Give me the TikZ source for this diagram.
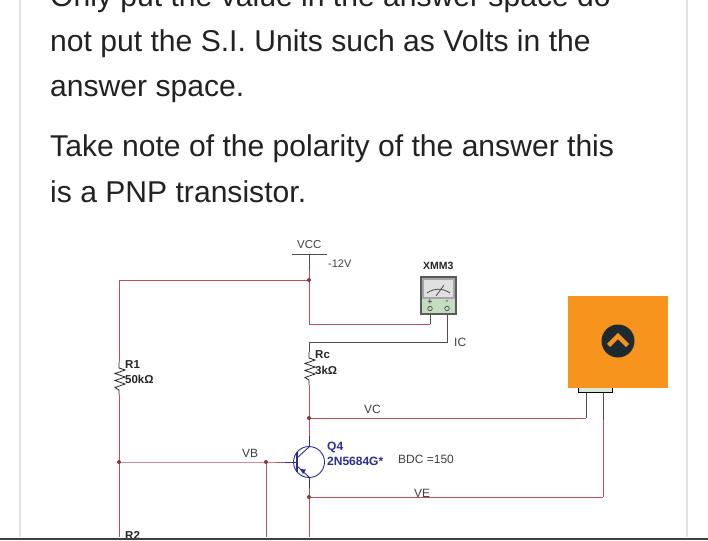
\documentclass[tikz,border=0pt]{standalone}
\usepackage{fontspec}
\setmainfont{Liberation Sans}
\definecolor{wirered}{HTML}{B5545A}
\definecolor{wireblk}{HTML}{5A4A4A}
\definecolor{qblue}{HTML}{2B2F8F}
\definecolor{railgray}{HTML}{E4E4E4}
\definecolor{orangebox}{HTML}{F7941E}
\definecolor{darkcirc}{HTML}{1F2A30}
\definecolor{txt}{HTML}{222222}
\definecolor{metergreen}{HTML}{C4DCC0}
\tikzset{
  wire/.style={draw=wirered,line width=1pt},
  bwire/.style={draw=wireblk,line width=1pt},
  zig/.style={draw=black!85,line width=0.8pt,line join=miter},
  junc/.style={circle,fill=wirered!70!black,inner sep=0pt,minimum size=4pt},
  para/.style={anchor=base west,inner sep=0pt,text=txt,font=\fontsize{30.1}{30}\selectfont},
  lab/.style={anchor=base west,inner sep=0pt,text=black!75,font=\fontsize{12}{12}\selectfont},
  blab/.style={anchor=base west,inner sep=0pt,text=black!85,font=\bfseries\fontsize{11.5}{11.5}\selectfont},
  qlab/.style={anchor=base west,inner sep=0pt,text=qblue,font=\bfseries\fontsize{12}{12}\selectfont},
}
\begin{document}
\begin{tikzpicture}[x=1pt,y=-1pt]
\useasboundingbox (0,0) rectangle (708,540);
\fill[white] (0,0) rectangle (708,540);
\draw[railgray,line width=1.5pt] (20,0) -- (20,537);
\draw[railgray,line width=1.5pt] (687,0) -- (687,537);
\begin{scope}
\clip (0,0) rectangle (708,540);
\node[para] (t0) at (50,7) {Only put the value in the answer space do};
\end{scope}
\node[para] (t1) at (50,52) {not put the S.I. Units such as Volts in the};
\node[para] (t2) at (50,97) {answer space.};
\node[para] (t3) at (50,157) {Take note of the polarity of the answer this};
\node[para] (t4) at (50,202) {is a PNP transistor.};
% coordinates
\coordinate (vcctop) at (309,254);
\coordinate (j1) at (309,280);
\coordinate (lft) at (119,280);
\coordinate (r1top) at (119,362);
\coordinate (r1bot) at (119,400);
\coordinate (j2) at (119,462);
\coordinate (r2) at (119,537);
\coordinate (m1) at (430,324);
\coordinate (m2) at (447,342);
\coordinate (rctop) at (309,342);
\coordinate (rcbot) at (309,392);
\coordinate (jc) at (309,418);
\coordinate (je) at (309,497);
\coordinate (jb) at (266,462);
% wires
\draw[bwire] (292,254) -- (327,254);
\draw[bwire] (vcctop) -- (309,270);
\draw[wire] (309,270) -- (j1);
\draw[wire] (j1) -- (lft) -- (r1top);
\draw[wire] (j1) -- (309,324) -- (m1);
\draw[bwire] (m1) -- (430,311);
\draw[bwire] (447,311) -- (m2) -- (rctop) -- (309,352);
\draw[zig] (119,362) -- (119,368) -- (125,370) -- (115,373.5) -- (125,377) -- (115,380.5) -- (125,384) -- (115,387.5) -- (119,390) -- (119,395);
\draw[wire] (119,395) -- (j2);
\draw[wire] (j2) -- (r2);
\draw[zig] (309,352) -- (309,358) -- (315,360) -- (305,363.5) -- (315,367) -- (305,370.5) -- (315,374) -- (305,377.5) -- (309,380) -- (309,385);
\draw[wire] (309,385) -- (jc);
\draw[wire] (jc) -- (309,436);
\draw[wire] (jc) -- (586,418);
\draw[bwire] (586,418) -- (586,392);
\draw[wire] (j2) -- (jb) -- (285,462);
\draw[wire] (jb) -- (266,537);
\draw[wire] (309,488) -- (309,537);
\draw[wire] (je) -- (603,497);
\draw[wire] (603,497) -- (603,420);
\draw[bwire] (603,420) -- (603,392);
% transistor
\node[circle,draw=qblue,line width=0.9pt,minimum size=31pt,inner sep=0pt] (q) at (309,462) {};
\draw[qblue,line width=1.3pt] (297,452) -- (297,472);
\draw[qblue,line width=0.9pt] (285,462) -- (297,462);
\draw[qblue,line width=0.9pt] (297,458) -- (309,447);
\draw[qblue,line width=0.9pt] (297,466) -- (309,477);
\fill[qblue] (300,469) -- (306,469.5) -- (303,474) -- cycle;
\draw[qblue,line width=1pt] (309,436) -- (309,447);
\draw[qblue,line width=1pt] (309,477) -- (309,488);
\foreach \p in {j1,j2,jc,je,jb} \node[junc] at (\p) {};
% meter
\node[rectangle,draw=black!65,line width=1.1pt,fill=metergreen,minimum width=35pt,minimum height=37pt,inner sep=0pt] (meter) at (438.5,295.5) {};
\fill[black!35] (421.6,277.6) rectangle (455.4,299);
\fill[white!88!black] (424,280) rectangle (453,297);
\draw[black!70,line width=0.8pt] (427,293) .. controls (434,288) and (443,288) .. (450,293);
\draw[black!70,line width=0.8pt] (436,296) -- (444,285);
\node[font=\bfseries\fontsize{8}{8}\selectfont,text=black!70,inner sep=0pt] (mp) at (430,302) {+};
\node[font=\bfseries\fontsize{8}{8}\selectfont,text=black!70,inner sep=0pt] (mm) at (447,302) {-};
\node[circle,draw=black!70,line width=0.7pt,inner sep=0pt,minimum size=4.5pt] (tp) at (430,308.5) {};
\node[circle,draw=black!70,line width=0.7pt,inner sep=0pt,minimum size=4.5pt] (tm) at (447,308.5) {};
% labels
\node[lab,font=\fontsize{11.5}{11.5}\selectfont] (lvcc) at (297,248) {VCC};
\node[lab,font=\fontsize{11}{11}\selectfont] (l12) at (328,267) {-12V};
\node[blab,font=\bfseries\fontsize{10.5}{10.5}\selectfont] (lx) at (423,269) {XMM3};
\node[lab] (lic) at (454,346) {IC};
\node[blab] (lrc) at (315,358) {Rc};
\node[blab] (l3k) at (315,374) {3kΩ};
\node[blab] (lr1) at (125,368) {R1};
\node[blab] (l50) at (125,383) {50kΩ};
\node[lab] (lvc) at (364,413) {VC};
\node[lab] (lvb) at (242,457) {VB};
\node[qlab] (lq) at (327,450) {Q4};
\node[qlab] (lqq) at (327,465) {2N5684G*};
\node[lab] (lbdc) at (398,463) {BDC =150};
\node[lab] (lve) at (414,497) {VE};
\node[blab] (lr2) at (125,539) {R2};
% orange overlay
\draw[black,line width=1pt,fill=metergreen!70!white] (578,387) rectangle (612,392);
\node[rectangle,fill=orangebox,minimum width=100pt,minimum height=91.5pt,inner sep=0pt] (ob) at (618,341.75) {};
\node[circle,fill=darkcirc,minimum size=33pt,inner sep=0pt] (oc) at (618,341) {};
\draw[orangebox,line width=4.5pt] (608.5,345.5) -- (618,336) -- (627.5,345.5);
% bottom bar
\fill[black!75] (0,537.5) rectangle (708,540);
\end{tikzpicture}
\end{document}
